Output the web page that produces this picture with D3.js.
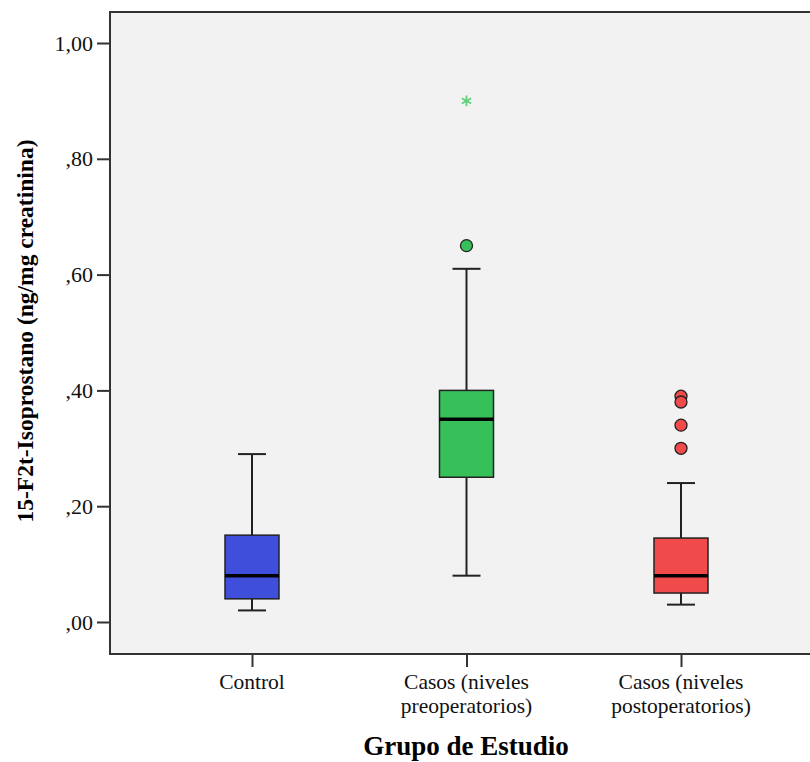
<!DOCTYPE html>
<html>
<head>
<meta charset="utf-8">
<script src="https://cdn.jsdelivr.net/npm/d3@7/dist/d3.min.js"></script>
<style>
  html, body { margin: 0; padding: 0; background: #fff; }
  svg { display: block; }
</style>
</head>
<body>
<script>
// Group labels (each may span two lines)
const groups = ["Control", "Casos (niveles preoperatorios)", "Casos (niveles postoperatorios)"];
const groupLines = [["Control"], ["Casos (niveles", "preoperatorios)"], ["Casos (niveles", "postoperatorios)"]];
const groupColors = ["#3f4fdb", "#37bf5a", "#f04a4a"];

// Five-number summaries per group
const whiskerLow = [0.02, 0.08, 0.03];
const q1 = [0.04, 0.25, 0.05];
const median = [0.08, 0.35, 0.08];
const q3 = [0.15, 0.40, 0.145];
const whiskerHigh = [0.29, 0.61, 0.24];

// Outliers (circles) and extreme values (stars)
const outlierGroup = [1, 2, 2, 2, 2];
const outlierValue = [0.65, 0.39, 0.38, 0.34, 0.30];
const extremeGroup = [1];
const extremeValue = [0.90];

const yTicks = [0, 0.2, 0.4, 0.6, 0.8, 1.0];
const yTickLabels = [",00", ",20", ",40", ",60", ",80", "1,00"];

const W = 810, H = 762;
const plot = { left: 110, right: 823, top: 12, bottom: 654 };
const serif = "Liberation Serif, Times New Roman, serif";

const svg = d3.select("body").append("svg").attr("width", W).attr("height", H);

const y = d3.scaleLinear().domain([0, 1]).range([622, 43]);
const x = d3.scalePoint().domain(groups).range([plot.left, plot.right]).padding(0.662);

// plot background
svg.append("rect")
  .attr("x", plot.left).attr("y", plot.top)
  .attr("width", plot.right - plot.left).attr("height", plot.bottom - plot.top)
  .attr("fill", "#f2f2f2");

// Y axis
const yAxis = d3.axisLeft(y).tickValues(yTicks)
  .tickFormat((d, i) => yTickLabels[i]).tickSize(13).tickPadding(4);
const gy = svg.append("g").attr("transform", `translate(${plot.left},0)`).call(yAxis);
gy.select(".domain").remove();
gy.selectAll(".tick line").attr("stroke", "#333").attr("stroke-width", 2);
gy.selectAll(".tick text").attr("font-family", serif)
  .attr("font-size", 22).attr("fill", "#111");

// X axis ticks
const xAxis = d3.axisBottom(x).tickSize(13).tickFormat("");
const gx = svg.append("g").attr("transform", `translate(0,${plot.bottom})`).call(xAxis);
gx.select(".domain").remove();
gx.selectAll(".tick line").attr("stroke", "#333").attr("stroke-width", 2);

// X tick labels (multi-line)
groups.forEach((g, i) => {
  const t = svg.append("text")
    .attr("x", x(g)).attr("y", 689)
    .attr("text-anchor", "middle")
    .attr("font-family", serif)
    .attr("font-size", 21.5).attr("fill", "#111");
  groupLines[i].forEach((line, k) => {
    t.append("tspan").attr("x", x(g)).attr("dy", k === 0 ? 0 : 24).text(line);
  });
});

// plot frame (left, top, bottom)
svg.append("path")
  .attr("d", `M${plot.right},${plot.top}H${plot.left}V${plot.bottom}H${plot.right}`)
  .attr("fill", "none").attr("stroke", "#333").attr("stroke-width", 2);

// Boxplots
const boxW = 54, capW = 28;
groups.forEach((g, i) => {
  const cx = x(g);
  const gb = svg.append("g");
  // whiskers
  gb.append("line").attr("x1", cx).attr("x2", cx)
    .attr("y1", y(q3[i])).attr("y2", y(whiskerHigh[i]))
    .attr("stroke", "#222").attr("stroke-width", 2);
  gb.append("line").attr("x1", cx).attr("x2", cx)
    .attr("y1", y(q1[i])).attr("y2", y(whiskerLow[i]))
    .attr("stroke", "#222").attr("stroke-width", 2);
  [whiskerHigh[i], whiskerLow[i]].forEach(v => {
    gb.append("line").attr("x1", cx - capW / 2).attr("x2", cx + capW / 2)
      .attr("y1", y(v)).attr("y2", y(v))
      .attr("stroke", "#222").attr("stroke-width", 2);
  });
  // box
  gb.append("rect")
    .attr("x", cx - boxW / 2).attr("width", boxW)
    .attr("y", y(q3[i])).attr("height", y(q1[i]) - y(q3[i]))
    .attr("fill", groupColors[i]).attr("stroke", "#222").attr("stroke-width", 1.5);
  // median
  gb.append("line").attr("x1", cx - boxW / 2).attr("x2", cx + boxW / 2)
    .attr("y1", y(median[i])).attr("y2", y(median[i]))
    .attr("stroke", "#000").attr("stroke-width", 3.5);
});

// Outliers
outlierValue.forEach((v, k) => {
  svg.append("circle")
    .attr("cx", x(groups[outlierGroup[k]])).attr("cy", y(v)).attr("r", 6)
    .attr("fill", groupColors[outlierGroup[k]]).attr("stroke", "#222").attr("stroke-width", 1.3);
});

// Extreme values
extremeValue.forEach((v, k) => {
  svg.append("path")
    .attr("d", d3.symbol().type(d3.symbolAsterisk).size(80)())
    .attr("transform", `translate(${x(groups[extremeGroup[k]])},${y(v)})`)
    .attr("fill", "none").attr("stroke", "#5fd07a").attr("stroke-width", 1.8);
});

// Axis titles
svg.append("text")
  .attr("x", 466).attr("y", 755)
  .attr("text-anchor", "middle")
  .attr("font-family", serif)
  .attr("font-weight", "bold").attr("font-size", 27).attr("fill", "#000")
  .text("Grupo de Estudio");

svg.append("text")
  .attr("transform", "translate(33,331) rotate(-90)")
  .attr("text-anchor", "middle")
  .attr("font-family", serif)
  .attr("font-weight", "bold").attr("font-size", 23.5).attr("fill", "#000")
  .text("15-F2t-Isoprostano (ng/mg creatinina)");
</script>
</body>
</html>
